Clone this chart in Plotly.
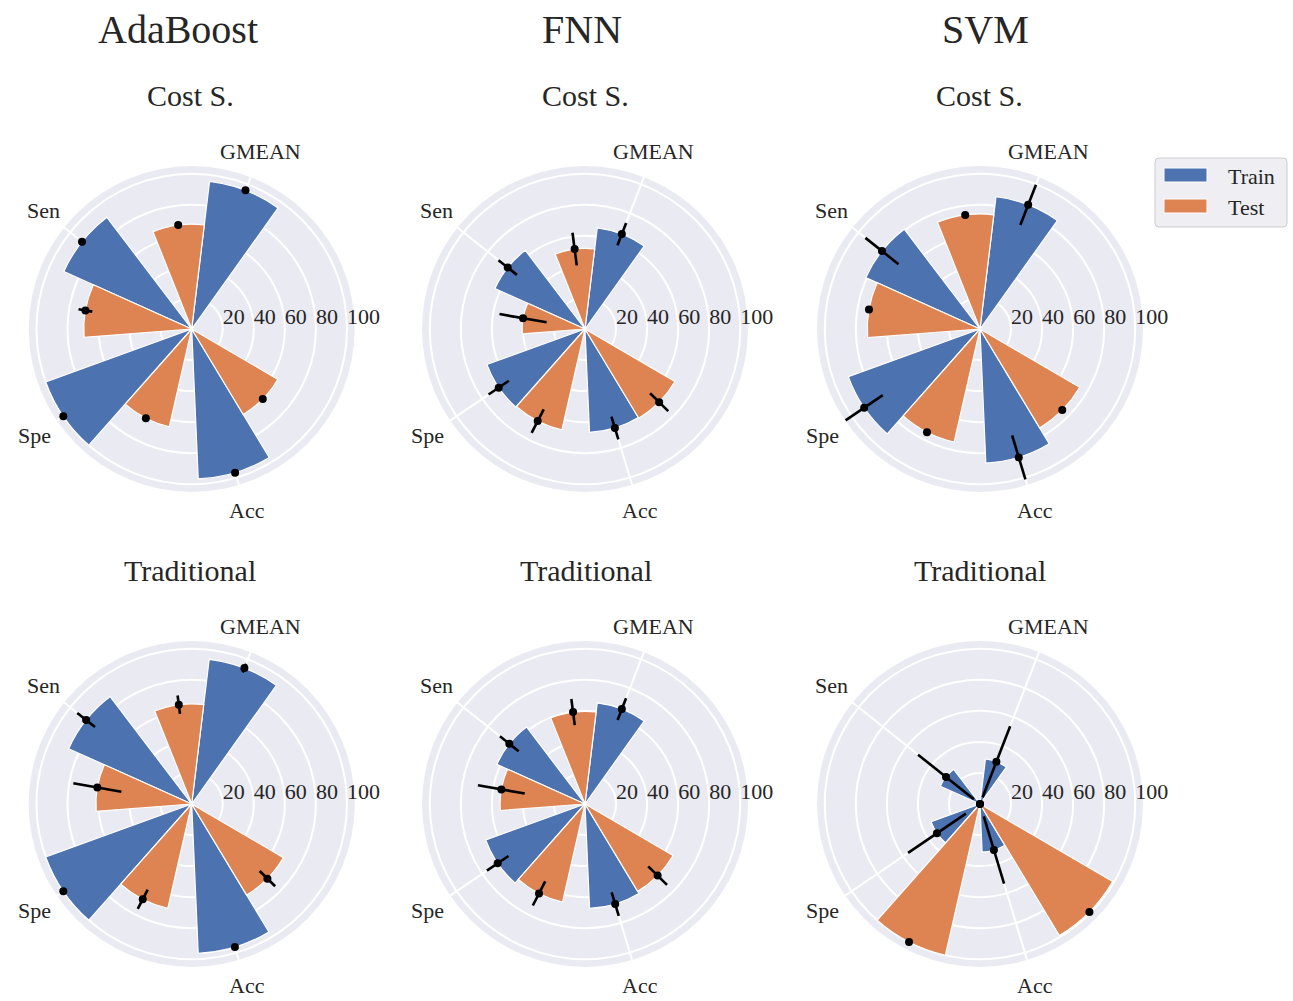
import math
import plotly.graph_objects as go

# ---- data -------------------------------------------------------------
categories = ["GMEAN", "Sen", "Spe", "Acc"]
category_theta = [68.8, 141.5, 214.2, 286.8]      # degrees, counter-clockwise from east
radial_ticks = [20, 40, 60, 80, 100]
models = ["AdaBoost", "FNN", "SVM"]
schemes = ["Cost S.", "Traditional"]

# mean score (%) and error half-width per metric (GMEAN, Sen, Spe, Acc)
ada_cost_train = [95.8, 90.3, 100.0, 96.7]
ada_cost_train_err = [0, 0, 0, 0]
ada_cost_test = [67.5, 69.5, 64.6, 64.3]
ada_cost_test_err = [0, 4.5, 0, 0]

fnn_cost_train = [65.6, 63.6, 67.2, 66.6]
fnn_cost_train_err = [7.7, 7.6, 7.9, 7.7]
fnn_cost_test = [51.9, 40.5, 66.7, 67.1]
fnn_cost_test_err = [10.6, 15.4, 8.5, 8.2]

svm_cost_train = [85.8, 80.7, 90.2, 86.4]
svm_cost_train_err = [13.9, 13.6, 14.5, 14.8]
svm_cost_test = [74.1, 72.6, 74.7, 74.4]
svm_cost_test_err = [0, 0, 0, 0]

ada_trad_train = [93.9, 86.9, 100.0, 96.3]
ada_trad_train_err = [3.0, 7.3, 0, 0]
ada_trad_test = [64.5, 61.7, 69.0, 68.5]
ada_trad_test_err = [6.0, 15.7, 7.0, 7.0]

fnn_trad_train = [65.6, 62.3, 68.0, 67.3]
fnn_trad_train_err = [7.5, 7.7, 8.4, 7.9]
fnn_trad_test = [59.7, 54.7, 64.8, 65.7]
fnn_trad_test_err = [8.5, 15.3, 8.7, 8.5]

svm_trad_train = [29.2, 28.0, 33.5, 31.0]
svm_trad_train_err = [24.5, 23.0, 22.5, 22.6]
svm_trad_test = [0.0, 0.0, 100.0, 99.0]
svm_trad_test_err = [0, 0, 0, 0]

# panels in row-major order: (train, train_err, test, test_err)
panels = [
    (ada_cost_train, ada_cost_train_err, ada_cost_test, ada_cost_test_err),
    (fnn_cost_train, fnn_cost_train_err, fnn_cost_test, fnn_cost_test_err),
    (svm_cost_train, svm_cost_train_err, svm_cost_test, svm_cost_test_err),
    (ada_trad_train, ada_trad_train_err, ada_trad_test, ada_trad_test_err),
    (fnn_trad_train, fnn_trad_train_err, fnn_trad_test, fnn_trad_test_err),
    (svm_trad_train, svm_trad_train_err, svm_trad_test, svm_trad_test_err),
]

# ---- styling / layout -------------------------------------------------
W, H = 1293, 1001
COL_CX = [191.7, 585.0, 980.0]
ROW_CY = [329.0, 804.0]
DISK_R = 163.0
R_MAX = 105
BAR_W = 28.6
LABEL_R = 190.0

TRAIN_C = "#4C72B0"
TEST_C = "#DD8452"
BG = "#EAEAF2"
TXT = "#262626"
FONT = "Liberation Serif"

test_theta = [t + BAR_W for t in category_theta]


def xp(px):
    return px / W


def yp(py):
    return 1 - py / H


def err_segments(means, errs, thetas):
    rs, ts = [], []
    for m, e, t in zip(means, errs, thetas):
        if e > 0:
            rs += [max(m - e, 0), m + e, None]
            ts += [t, t, None]
    return rs, ts


fig = go.Figure()
layout_polars = {}
annotations = []

for idx, (tr, tr_e, te, te_e) in enumerate(panels):
    row, col = divmod(idx, 3)
    cx, cy = COL_CX[col], ROW_CY[row]
    sp = "polar" if idx == 0 else f"polar{idx + 1}"

    layout_polars[sp] = dict(
        domain=dict(x=[xp(cx - DISK_R), xp(cx + DISK_R)],
                    y=[yp(cy + DISK_R), yp(cy - DISK_R)]),
        bgcolor=BG,
        radialaxis=dict(range=[0, R_MAX], tickmode="array", tickvals=radial_ticks,
                        showticklabels=False, ticks="", showline=False,
                        gridcolor="white", gridwidth=1.5, angle=0),
        angularaxis=dict(thetaunit="degrees", direction="counterclockwise", rotation=0,
                         tickmode="array", tickvals=category_theta,
                         showticklabels=False, ticks="", showline=False,
                         gridcolor="white", gridwidth=1.5),
    )

    fig.add_trace(go.Barpolar(r=tr, theta=category_theta, width=BAR_W, name="Train",
                              marker=dict(color=TRAIN_C, line=dict(color="white", width=1.2)),
                              subplot=sp, showlegend=False, hoverinfo="skip"))
    fig.add_trace(go.Barpolar(r=te, theta=test_theta, width=BAR_W, name="Test",
                              marker=dict(color=TEST_C, line=dict(color="white", width=1.2)),
                              subplot=sp, showlegend=False, hoverinfo="skip"))

    for means, errs, thetas in ((tr, tr_e, category_theta), (te, te_e, test_theta)):
        rs, ts = err_segments(means, errs, thetas)
        if rs:
            fig.add_trace(go.Scatterpolar(r=rs, theta=ts, mode="lines",
                                          line=dict(color="black", width=2.6),
                                          subplot=sp, showlegend=False, hoverinfo="skip"))
        fig.add_trace(go.Scatterpolar(r=means, theta=thetas, mode="markers",
                                      marker=dict(color="black", size=8),
                                      subplot=sp, showlegend=False, hoverinfo="skip"))

    # radial tick labels sitting on the east axis
    fig.add_trace(go.Scatterpolar(r=radial_ticks, theta=[0] * len(radial_ticks), mode="text",
                                  text=[str(v) for v in radial_ticks],
                                  textposition="top right",
                                  textfont=dict(family=FONT, size=22, color=TXT),
                                  cliponaxis=False, subplot=sp, showlegend=False,
                                  hoverinfo="skip"))

    # category labels around the disk
    for name, t in zip(categories, category_theta):
        a = math.radians(t)
        annotations.append(dict(
            x=xp(cx + LABEL_R * math.cos(a)), y=yp(cy - LABEL_R * math.sin(a)),
            xref="paper", yref="paper", text=name, showarrow=False,
            xanchor="center", yanchor="middle",
            font=dict(family=FONT, size=22, color=TXT)))

# column (model) titles
for name, x in zip(models, [177.5, 582.0, 985.0]):
    annotations.append(dict(x=xp(x), y=yp(30), xref="paper", yref="paper", text=name,
                            showarrow=False, xanchor="center", yanchor="middle",
                            font=dict(family=FONT, size=40, color=TXT)))

# per-panel scheme titles
for row, (scheme, y) in enumerate(zip(schemes, [95, 570])):
    for x in [190.5, 585.5, 980.0]:
        annotations.append(dict(x=xp(x), y=yp(y), xref="paper", yref="paper", text=scheme,
                                showarrow=False, xanchor="center", yanchor="middle",
                                font=dict(family=FONT, size=30, color=TXT)))


def rounded_rect(x0, y0, x1, y1, rad):
    rx, ry = rad / W, rad / H
    X0, X1, Y0, Y1 = xp(x0), xp(x1), yp(y0), yp(y1)
    return (f"M{X0 + rx},{Y0} L{X1 - rx},{Y0} Q{X1},{Y0} {X1},{Y0 - ry} "
            f"L{X1},{Y1 + ry} Q{X1},{Y1} {X1 - rx},{Y1} "
            f"L{X0 + rx},{Y1} Q{X0},{Y1} {X0},{Y1 + ry} "
            f"L{X0},{Y0 - ry} Q{X0},{Y0} {X0 + rx},{Y0} Z")


# legend box
shapes = [
    dict(type="path", xref="paper", yref="paper",
         path=rounded_rect(1155, 158, 1287, 227, 4),
         fillcolor="#EEEEF3", line=dict(color="#CCCCCC", width=1)),
]
for (label, color, ytop) in (("Train", TRAIN_C, 168), ("Test", TEST_C, 199)):
    shapes.append(dict(type="rect", xref="paper", yref="paper",
                       x0=xp(1164), x1=xp(1207), y0=yp(ytop + 14), y1=yp(ytop),
                       fillcolor=color, line=dict(color="white", width=1)))
    annotations.append(dict(x=xp(1226), y=yp(ytop + 8), xref="paper", yref="paper",
                            text=label, showarrow=False, xanchor="left", yanchor="middle",
                            font=dict(family=FONT, size=22, color=TXT)))

fig.update_layout(
    width=W, height=H,
    margin=dict(l=0, r=0, t=0, b=0),
    paper_bgcolor="white",
    showlegend=False,
    annotations=annotations,
    shapes=shapes,
    **layout_polars,
)

fig.write_html("out.html")
